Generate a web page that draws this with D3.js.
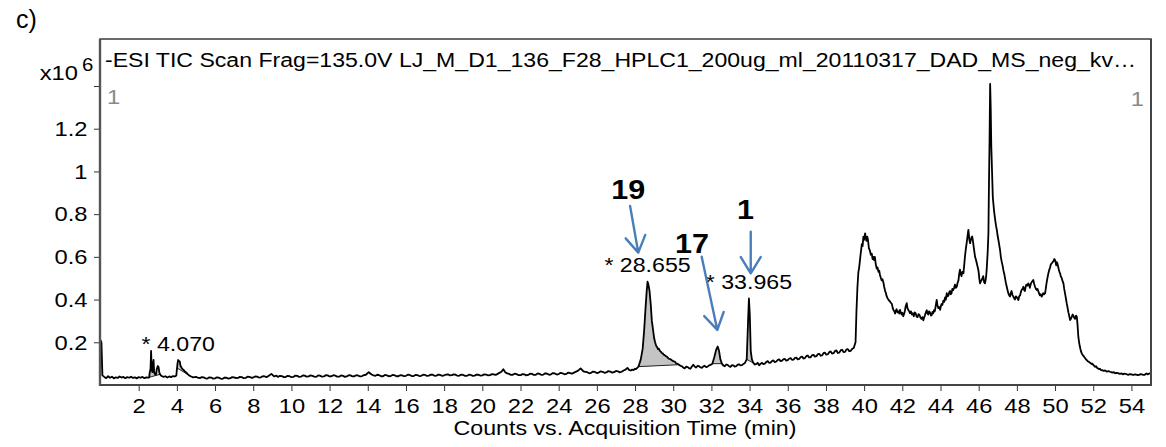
<!DOCTYPE html>
<html>
<head>
<meta charset="utf-8">
<script src="https://cdn.jsdelivr.net/npm/d3@7"></script>
<style>
  html, body { margin: 0; padding: 0; background: #fff; }
  svg { display: block; }
  text { font-family: "Liberation Sans", Arial, Helvetica, sans-serif; }
</style>
</head>
<body>
<svg id="chart" width="1166" height="447"></svg>
<script>
// Total ion chromatogram: [acquisition time (min), counts x10^6]
const ticPoints = [
  [0,0.21],[0.05,0.2],[0.1,0.045],[0.2,0.038],[0.3,0.032],[0.4,0.041],[0.5,0.034],[0.6,0.039],[0.7,0.031],[0.8,0.036],
  [0.9,0.033],[1.0,0.04],[1.1,0.035],[1.2,0.038],[1.3,0.032],[1.4,0.037],[1.5,0.034],[1.6,0.039],[1.7,0.033],[1.8,0.036],
  [1.9,0.031],[2.0,0.037],[2.1,0.034],[2.2,0.038],[2.3,0.032],[2.4,0.036],[2.5,0.034],
  [2.55,0.036],[2.58,0.06],[2.62,0.075],[2.65,0.16],[2.68,0.07],[2.72,0.06],[2.75,0.1],[2.78,0.117],[2.81,0.06],[2.85,0.05],
  [2.9,0.048],[2.95,0.075],[3.0,0.089],[3.04,0.085],[3.08,0.06],[3.12,0.05],[3.2,0.042],
  [3.3,0.038],[3.4,0.041],[3.5,0.035],[3.6,0.04],[3.7,0.037],[3.8,0.042],[3.9,0.04],[3.97,0.044],
  [4.01,0.08],[4.04,0.105],[4.07,0.117],[4.11,0.113],[4.15,0.11],[4.19,0.09],[4.24,0.082],[4.3,0.074],[4.36,0.07],[4.42,0.064],
  [4.5,0.058],[4.58,0.05],[4.66,0.044],[4.75,0.04],[4.85,0.036],
  [5.0,0.038],[5.1,0.034],[5.2,0.032],[5.3,0.037],[5.4,0.036],[5.5,0.031],[5.6,0.03],[5.7,0.036],[5.8,0.035],[5.9,0.03],
  [6.0,0.031],[6.1,0.036],[6.2,0.034],[6.3,0.03],[6.4,0.029],[6.5,0.035],[6.6,0.034],[6.7,0.03],[6.8,0.032],[6.9,0.037],
  [7.0,0.036],[7.1,0.032],[7.2,0.033],[7.3,0.038],[7.4,0.037],[7.5,0.032],[7.6,0.033],[7.7,0.039],[7.8,0.038],[7.9,0.034],
  [8.0,0.035],[8.1,0.04],[8.2,0.039],[8.3,0.035],[8.4,0.036],[8.5,0.041],[8.6,0.04],[8.7,0.037],[8.8,0.042],[8.95,0.052],
  [9.1,0.04],[9.2,0.044],[9.3,0.038],[9.4,0.043],[9.5,0.042],[9.6,0.037],[9.7,0.037],[9.8,0.043],[9.9,0.041],[10.0,0.037],
  [10.1,0.038],[10.2,0.044],[10.3,0.043],[10.4,0.038],[10.5,0.039],[10.6,0.045],[10.7,0.044],[10.8,0.039],[10.9,0.04],[11.0,0.045],
  [11.1,0.043],[11.2,0.039],[11.3,0.038],[11.4,0.045],[11.5,0.044],[11.6,0.039],[11.7,0.04],[11.8,0.046],[11.9,0.045],[12.0,0.04],
  [12.1,0.041],[12.2,0.046],[12.3,0.044],[12.4,0.039],[12.5,0.039],[12.6,0.045],[12.7,0.043],[12.8,0.038],[12.9,0.04],[13.0,0.046],
  [13.1,0.045],[13.2,0.04],[13.3,0.041],[13.4,0.046],[13.5,0.044],[13.6,0.04],[13.7,0.042],[13.8,0.046],[13.9,0.048],[14.05,0.06],
  [14.2,0.049],[14.3,0.045],[14.4,0.043],[14.5,0.048],[14.6,0.046],[14.7,0.041],[14.8,0.041],[14.9,0.047],[15.0,0.045],[15.1,0.041],
  [15.2,0.042],[15.3,0.047],[15.4,0.046],[15.5,0.041],[15.6,0.041],[15.7,0.046],[15.8,0.045],[15.9,0.041],[16.0,0.043],[16.1,0.048],
  [16.2,0.047],[16.3,0.042],[16.4,0.042],[16.5,0.047],[16.6,0.046],[16.7,0.042],[16.8,0.043],[16.9,0.048],[17.0,0.047],[17.1,0.043],
  [17.2,0.044],[17.3,0.049],[17.4,0.048],[17.5,0.043],[17.6,0.044],[17.7,0.049],[17.8,0.047],[17.9,0.043],[18.0,0.045],[18.1,0.049],
  [18.2,0.05],[18.3,0.045],[18.4,0.046],[18.5,0.05],[18.6,0.048],[18.7,0.043],[18.8,0.044],[18.9,0.049],[19.0,0.047],[19.1,0.043],
  [19.2,0.043],[19.3,0.048],[19.4,0.047],[19.5,0.043],[19.6,0.044],[19.7,0.049],[19.8,0.048],[19.9,0.044],[20.0,0.045],[20.1,0.05],
  [20.2,0.049],[20.3,0.045],[20.4,0.046],[20.5,0.051],[20.6,0.05],[20.7,0.047],[20.8,0.052],[21.0,0.062],[21.1,0.074],[21.2,0.06],
  [21.3,0.054],[21.4,0.052],[21.5,0.047],[21.6,0.048],[21.7,0.053],[21.8,0.051],[21.9,0.046],[22.0,0.046],[22.1,0.051],[22.2,0.05],
  [22.3,0.045],[22.4,0.047],[22.5,0.053],[22.6,0.052],[22.7,0.047],[22.8,0.048],[22.9,0.054],[23.0,0.052],[23.1,0.047],[23.2,0.049],
  [23.3,0.055],[23.4,0.053],[23.5,0.048],[23.6,0.05],[23.7,0.056],[23.8,0.054],[23.9,0.049],[24.0,0.051],[24.1,0.057],[24.2,0.055],
  [24.3,0.05],[24.4,0.052],[24.5,0.058],[24.6,0.056],[24.7,0.053],[24.8,0.058],[25.0,0.066],[25.15,0.078],[25.3,0.064],[25.4,0.062],
  [25.5,0.06],[25.6,0.055],[25.7,0.057],[25.8,0.063],[25.9,0.061],[26.0,0.056],[26.1,0.058],[26.2,0.064],[26.3,0.062],[26.4,0.057],
  [26.5,0.059],[26.6,0.065],[26.7,0.063],[26.8,0.058],[26.9,0.06],[27.0,0.066],[27.1,0.064],[27.2,0.059],[27.3,0.062],[27.4,0.068],
  [27.5,0.072],[27.6,0.08],[27.7,0.07],[27.78,0.068],[27.85,0.072],[27.92,0.07],[28.0,0.076],[28.05,0.074],
  [28.1,0.079],[28.18,0.086],[28.3,0.12],[28.4,0.17],[28.48,0.26],[28.55,0.36],[28.61,0.44],[28.655,0.484],[28.7,0.47],[28.76,0.44],
  [28.82,0.38],[28.88,0.3],[28.94,0.26],[29.0,0.22],[29.05,0.2],[29.1,0.185],[29.15,0.178],[29.2,0.168],[29.25,0.17],[29.3,0.16],
  [29.35,0.156],[29.4,0.15],[29.45,0.148],[29.5,0.142],[29.55,0.14],[29.6,0.136],[29.65,0.133],[29.7,0.13],[29.75,0.124],[29.8,0.122],
  [29.85,0.121],[29.9,0.118],[29.95,0.114],[30.0,0.112],[30.05,0.11],[30.1,0.108],[30.15,0.102],[30.2,0.1],[30.25,0.098],[30.3,0.095],
  [30.38,0.09],[30.45,0.088],[30.52,0.082],[30.6,0.078],[30.68,0.086],[30.75,0.084],[30.82,0.079],[30.9,0.076],[30.97,0.085],[31.05,0.095],
  [31.12,0.087],[31.2,0.082],[31.28,0.09],[31.35,0.088],[31.42,0.083],[31.5,0.08],[31.58,0.087],[31.65,0.09],[31.72,0.084],[31.8,0.086],
  [31.88,0.092],[31.95,0.094],[32.05,0.1],[32.15,0.13],[32.25,0.165],[32.33,0.18],[32.4,0.16],[32.47,0.12],[32.55,0.1],[32.62,0.092],
  [32.7,0.088],[32.78,0.096],[32.85,0.094],[32.92,0.088],[33.0,0.085],[33.08,0.093],[33.15,0.092],[33.22,0.086],[33.3,0.088],[33.38,0.095],
  [33.45,0.097],[33.52,0.092],[33.6,0.093],[33.68,0.099],[33.75,0.102],[33.85,0.12],[33.92,0.3],[33.965,0.405],[34.01,0.33],[34.06,0.16],
  [34.12,0.12],[34.2,0.103],[34.28,0.096],[34.35,0.098],[34.42,0.104],[34.5,0.092],[34.58,0.1],[34.65,0.104],[34.72,0.098],[34.8,0.1],
  [34.88,0.108],[34.95,0.112],[35.02,0.104],[35.1,0.105],[35.18,0.113],[35.25,0.115],[35.32,0.107],[35.4,0.11],[35.48,0.118],[35.55,0.12],
  [35.62,0.112],[35.7,0.114],[35.78,0.121],[35.85,0.122],[35.92,0.114],[36.0,0.116],[36.08,0.124],[36.15,0.126],[36.22,0.118],[36.3,0.119],
  [36.38,0.127],[36.45,0.128],[36.52,0.12],[36.6,0.122],[36.68,0.131],[36.75,0.133],[36.82,0.124],[36.9,0.126],[36.98,0.136],[37.05,0.138],
  [37.12,0.129],[37.2,0.13],[37.28,0.14],[37.35,0.141],[37.42,0.133],[37.5,0.135],[37.58,0.145],[37.65,0.146],[37.72,0.137],[37.8,0.139],
  [37.88,0.15],[37.95,0.151],[38.02,0.142],[38.1,0.144],[38.18,0.155],[38.25,0.157],[38.32,0.147],[38.4,0.149],[38.48,0.16],[38.55,0.162],
  [38.62,0.15],[38.7,0.152],[38.78,0.163],[38.85,0.165],[38.92,0.154],[39.0,0.155],[39.08,0.167],[39.15,0.168],[39.22,0.158],[39.3,0.16],
  [39.38,0.17],[39.45,0.172],
  [39.55,0.2],[39.6,0.35],[39.65,0.46],[39.7,0.53],[39.74,0.55],[39.8,0.6],[39.84,0.63],[39.88,0.66],[39.92,0.65],[39.96,0.695],
  [40.0,0.68],[40.05,0.71],[40.09,0.69],[40.12,0.675],[40.16,0.695],[40.2,0.68],[40.25,0.64],[40.3,0.63],[40.35,0.61],[40.4,0.615],
  [40.44,0.59],[40.48,0.6],[40.52,0.585],[40.56,0.6],[40.61,0.565],[40.66,0.545],[40.7,0.55],[40.75,0.53],[40.79,0.535],[40.83,0.515],
  [40.88,0.5],[40.92,0.49],[40.96,0.495],[41.01,0.48],[41.05,0.46],[41.1,0.44],[41.14,0.43],[41.18,0.416],[41.23,0.405],[41.27,0.4],
  [41.31,0.395],[41.36,0.39],[41.4,0.385],[41.45,0.38],[41.5,0.36],[41.54,0.35],[41.58,0.345],[41.62,0.335],[41.66,0.348],[41.7,0.355],
  [41.75,0.34],[41.8,0.345],[41.84,0.335],[41.88,0.352],[41.92,0.34],[41.96,0.33],[42.0,0.338],[42.05,0.322],[42.1,0.335],[42.14,0.35],
  [42.18,0.37],[42.23,0.383],[42.27,0.36],[42.32,0.35],[42.36,0.345],[42.4,0.336],[42.45,0.345],[42.5,0.33],[42.55,0.336],[42.6,0.322],
  [42.65,0.34],[42.7,0.335],[42.75,0.32],[42.8,0.318],[42.85,0.332],[42.9,0.328],[42.95,0.315],[43.0,0.31],[43.05,0.318],[43.1,0.303],
  [43.14,0.315],[43.18,0.325],[43.23,0.34],[43.28,0.35],[43.32,0.335],[43.36,0.33],[43.4,0.345],[43.45,0.34],[43.5,0.325],[43.54,0.328],
  [43.58,0.342],[43.62,0.336],[43.66,0.35],[43.7,0.345],[43.75,0.37],[43.8,0.398],[43.84,0.375],[43.88,0.36],[43.93,0.365],[43.98,0.352],
  [44.02,0.37],[44.06,0.38],[44.1,0.375],[44.15,0.395],[44.2,0.39],[44.24,0.41],[44.28,0.4],[44.33,0.43],[44.37,0.415],[44.42,0.42],
  [44.46,0.435],[44.5,0.44],[44.54,0.425],[44.58,0.43],[44.62,0.45],[44.67,0.445],[44.71,0.455],[44.76,0.47],[44.8,0.455],[44.85,0.46],
  [44.9,0.48],[44.94,0.49],[44.98,0.52],[45.02,0.54],[45.06,0.52],[45.1,0.51],[45.15,0.53],[45.2,0.523],[45.24,0.56],[45.28,0.6],
  [45.33,0.64],[45.37,0.664],[45.42,0.7],[45.46,0.726],[45.49,0.7],[45.51,0.68],[45.55,0.664],[45.59,0.68],[45.62,0.69],[45.66,0.695],
  [45.69,0.679],[45.72,0.66],[45.75,0.64],[45.78,0.62],[45.81,0.6],[45.86,0.585],[45.9,0.57],[45.94,0.555],[45.98,0.54],[46.01,0.52],
  [46.03,0.5],[46.07,0.476],[46.11,0.485],[46.15,0.49],[46.2,0.5],[46.24,0.51],[46.27,0.49],[46.29,0.48],[46.33,0.476],[46.36,0.49],
  [46.38,0.5],[46.42,0.54],[46.47,0.62],[46.51,0.71],[46.54,0.95],[46.57,1.15],[46.6,1.41],[46.63,1.3],[46.66,1.12],[46.7,1.0],
  [46.74,0.88],[46.77,0.85],[46.8,0.82],[46.84,0.79],[46.87,0.77],[46.91,0.745],[46.95,0.726],[46.99,0.7],[47.03,0.68],[47.07,0.66],
  [47.12,0.632],[47.16,0.6],[47.2,0.58],[47.25,0.56],[47.29,0.539],[47.34,0.52],[47.38,0.5],[47.42,0.48],[47.47,0.46],[47.51,0.445],
  [47.55,0.43],[47.6,0.42],[47.64,0.414],[47.68,0.43],[47.72,0.44],[47.77,0.42],[47.82,0.414],[47.86,0.405],[47.9,0.4],[47.95,0.415],
  [48.0,0.41],[48.04,0.405],[48.08,0.398],[48.12,0.415],[48.17,0.42],[48.21,0.435],[48.25,0.445],[48.3,0.45],[48.34,0.46],[48.38,0.445],
  [48.42,0.44],[48.46,0.46],[48.5,0.47],[48.55,0.465],[48.6,0.476],[48.64,0.47],[48.68,0.455],[48.72,0.47],[48.76,0.48],[48.81,0.485],
  [48.86,0.492],[48.9,0.475],[48.95,0.46],[49.0,0.45],[49.04,0.445],[49.08,0.45],[49.12,0.44],[49.16,0.43],[49.2,0.42],[49.25,0.425],
  [49.3,0.414],[49.34,0.42],[49.38,0.43],[49.43,0.425],[49.48,0.43],[49.52,0.455],[49.56,0.48],[49.6,0.5],[49.65,0.523],[49.7,0.54],
  [49.74,0.55],[49.78,0.565],[49.83,0.57],[49.87,0.575],[49.92,0.58],[49.96,0.59],[50.0,0.585],[50.03,0.575],[50.06,0.56],[50.09,0.575],
  [50.12,0.57],[50.16,0.555],[50.2,0.54],[50.23,0.53],[50.26,0.523],[50.3,0.51],[50.35,0.5],[50.4,0.485],[50.44,0.476],[50.48,0.45],
  [50.52,0.43],[50.57,0.405],[50.61,0.383],[50.66,0.36],[50.7,0.34],[50.75,0.32],[50.79,0.304],[50.83,0.31],[50.88,0.32],[50.92,0.33],
  [50.96,0.325],[51.0,0.315],[51.05,0.31],[51.1,0.325],[51.14,0.32],[51.18,0.28],[51.22,0.226],[51.26,0.2],[51.3,0.18],[51.35,0.16],
  [51.4,0.148],[51.45,0.14],[51.5,0.135],[51.54,0.13],[51.58,0.125],[51.62,0.12],[51.66,0.117],[51.7,0.112],[51.75,0.11],[51.8,0.106],
  [51.85,0.103],[51.92,0.098],[51.96,0.1],[52.0,0.094],[52.05,0.09],[52.1,0.085],[52.15,0.088],[52.2,0.08],[52.25,0.078],[52.3,0.074],
  [52.35,0.076],[52.4,0.07],[52.48,0.069],[52.55,0.066],[52.62,0.068],[52.7,0.063],[52.8,0.065],[52.88,0.062],[52.95,0.06],[53.0,0.058],
  [53.08,0.06],[53.15,0.055],[53.22,0.057],[53.3,0.056],[53.35,0.053],[53.4,0.052],[53.48,0.054],[53.55,0.05],[53.62,0.053],[53.7,0.052],
  [53.78,0.049],[53.85,0.048],[53.92,0.051],[54.0,0.05],[54.05,0.048],[54.1,0.047],[54.18,0.05],[54.25,0.049],[54.32,0.046],[54.4,0.047],
  [54.48,0.051],[54.55,0.05],[54.62,0.047],[54.7,0.048],[54.75,0.052],[54.8,0.054],[54.85,0.05],[54.9,0.052],[54.97,0.056]
];

// Integrated peak windows [start, end] in minutes
const integratedPeaks = [[0, 0.1], [2.55, 3.12], [4.0, 4.66], [28.18, 30.3], [32.05, 32.55], [33.85, 34.2]];

// Retention times printed above integrated peaks
const labelledPeakRT = [4.070, 28.655, 33.965];

// Compound numbers with arrows (minutes, counts x10^6)
const compoundIds = ["19", "17", "1"];
const compoundLabelAt = [[27.65, 0.87], [30.98, 0.62], [33.78, 0.776]];
const arrowFrom = [[27.74, 0.838], [31.49, 0.601], [34.06, 0.718]];
const arrowTo = [[28.17, 0.62], [32.31, 0.258], [34.06, 0.523]];

const xTickValues = [2,4,6,8,10,12,14,16,18,20,22,24,26,28,30,32,34,36,38,40,42,44,46,48,50,52,54];
const yTickValues = [0.2, 0.4, 0.6, 0.8, 1, 1.2, 1.4];
const yTickLabels = ["0.2", "0.4", "0.6", "0.8", "1", "1.2", ""];

const panelLetter = "c)";
const traceTitle = "-ESI TIC Scan Frag=135.0V LJ_M_D1_136_F28_HPLC1_200ug_ml_20110317_DAD_MS_neg_kv\u2026";
const xAxisTitle = "Counts vs. Acquisition Time (min)";

// ---------------------------------------------------------------
const svg = d3.select("#chart");
const frame = { left: 100, top: 39, right: 1151, bottom: 385 };
const TEXT_STRETCH = 1.13;

const x = d3.scaleLinear().domain([0, 55]).range([100.5, 1150.5]);
const y = d3.scaleLinear().domain([0, 1.4]).range([385, 86]);

function stretch(sel, k) {
  sel.each(function () {
    const w = this.getComputedTextLength();
    if (w > 0) {
      this.setAttribute("textLength", (w * k).toFixed(2));
      this.setAttribute("lengthAdjust", "spacingAndGlyphs");
    }
  });
}

// Frame around plot and title strip
svg.append("rect")
  .attr("x", frame.left).attr("y", frame.top)
  .attr("width", frame.right - frame.left).attr("height", frame.bottom - frame.top)
  .attr("fill", "none").attr("stroke", "#3a3a3a").attr("stroke-width", 1.5);

// Shaded integrated peaks
const line = d3.line().x(d => x(d[0])).y(d => y(d[1]));
integratedPeaks.forEach(([t0, t1]) => {
  const seg = ticPoints.filter(p => p[0] >= t0 - 1e-9 && p[0] <= t1 + 1e-9);
  if (seg.length < 2) return;
  const a = seg[0], b = seg[seg.length - 1];
  const poly = seg.concat([b, a]);
  svg.append("path")
    .attr("d", line(poly) + "Z")
    .attr("fill", "#c4c4c4").attr("stroke", "none");
  svg.append("path")
    .attr("d", line([a, b]))
    .attr("fill", "none").attr("stroke", "#222").attr("stroke-width", 1);
});

// TIC trace
svg.append("path")
  .datum(ticPoints)
  .attr("d", line)
  .attr("fill", "none")
  .attr("stroke", "#000")
  .attr("stroke-width", 1.8)
  .attr("stroke-linejoin", "round");

// Axes
const xAxis = d3.axisBottom(x).tickValues(xTickValues).tickSize(6).tickPadding(7.5).tickFormat(d3.format("d"));
const gx = svg.append("g").attr("transform", `translate(0,${frame.bottom})`).call(xAxis);
gx.select(".domain").remove();
gx.selectAll(".tick line").attr("stroke", "#333").attr("stroke-width", 1);
gx.selectAll(".tick text").attr("font-size", 21).attr("fill", "#000")
  .attr("font-family", '"Liberation Sans", Arial, sans-serif');

const yAxis = d3.axisLeft(y).tickValues(yTickValues).tickSize(6).tickPadding(6.5)
  .tickFormat((d, i) => yTickLabels[i]);
const gy = svg.append("g").attr("transform", `translate(${frame.left},0)`).call(yAxis);
gy.select(".domain").remove();
gy.selectAll(".tick line").attr("stroke", "#333").attr("stroke-width", 1);
gy.selectAll(".tick text").attr("font-size", 21).attr("fill", "#000")
  .attr("font-family", '"Liberation Sans", Arial, sans-serif');

// heavier left and bottom axis lines
svg.append("line").attr("x1", frame.left).attr("x2", frame.left)
  .attr("y1", frame.top).attr("y2", frame.bottom + 1)
  .attr("stroke", "#555").attr("stroke-width", 2.4);
svg.append("line").attr("x1", frame.left).attr("x2", frame.right + 1)
  .attr("y1", frame.bottom).attr("y2", frame.bottom)
  .attr("stroke", "#444").attr("stroke-width", 2.2);
svg.append("line").attr("x1", frame.right).attr("x2", frame.right)
  .attr("y1", frame.top).attr("y2", frame.bottom)
  .attr("stroke", "#444").attr("stroke-width", 2);

// Retention-time labels centred over the peak apex
labelledPeakRT.forEach(rt => {
  const near = ticPoints.filter(p => Math.abs(p[0] - rt) < 0.06);
  const apex = d3.max(near, p => p[1]);
  svg.append("text")
    .attr("class", "rtlabel")
    .attr("x", x(rt)).attr("y", y(apex) - 9.5)
    .attr("text-anchor", "middle")
    .attr("font-size", 20.5)
    .text("* " + rt.toFixed(3));
});

// Compound arrows
const arrowColor = "#4a7ebb";
compoundIds.forEach((id, i) => {
  const [fx, fy] = [x(arrowFrom[i][0]), y(arrowFrom[i][1])];
  const [tx, ty] = [x(arrowTo[i][0]), y(arrowTo[i][1])];
  const ang = Math.atan2(ty - fy, tx - fx);
  const len = 19, spread = 0.55;
  const b1 = [tx - len * Math.cos(ang - spread), ty - len * Math.sin(ang - spread)];
  const b2 = [tx - len * Math.cos(ang + spread), ty - len * Math.sin(ang + spread)];
  svg.append("path")
    .attr("d", `M${fx},${fy}L${tx},${ty}M${b1[0]},${b1[1]}L${tx},${ty}L${b2[0]},${b2[1]}`)
    .attr("fill", "none").attr("stroke", arrowColor)
    .attr("stroke-width", 2.4).attr("stroke-linecap", "round").attr("stroke-linejoin", "round");
  svg.append("text")
    .attr("class", "cmpd")
    .attr("x", x(compoundLabelAt[i][0])).attr("y", y(compoundLabelAt[i][1]))
    .attr("text-anchor", "middle")
    .attr("font-size", 27).attr("font-weight", "bold")
    .text(id);
});

// Title strip
svg.append("text")
  .attr("id", "title")
  .attr("x", 105).attr("y", 66.5)
  .attr("font-size", 20)
  .text(traceTitle);

// Gray "1" markers inside the plot
svg.append("text").attr("class", "marker").attr("x", 107).attr("y", 103.5)
  .attr("font-size", 21).attr("fill", "#8a8a8a").text("1");
svg.append("text").attr("class", "marker").attr("x", 1144).attr("y", 106)
  .attr("font-size", 21).attr("fill", "#8a8a8a").attr("text-anchor", "end").text("1");

// Exponent label
svg.append("text").attr("class", "expo").attr("x", 78).attr("y", 80)
  .attr("font-size", 21).attr("text-anchor", "end").text("x10");
svg.append("text").attr("class", "expo").attr("x", 82).attr("y", 70.5)
  .attr("font-size", 18).text("6");

// X axis title
svg.append("text").attr("id", "xtitle")
  .attr("x", 625).attr("y", 435)
  .attr("text-anchor", "middle")
  .attr("font-size", 20)
  .text(xAxisTitle);

// Panel letter
svg.append("text")
  .attr("x", 16).attr("y", 28)
  .attr("font-family", '"Open Sans", "Noto Sans", sans-serif')
  .attr("font-size", 25)
  .text(panelLetter);

// Horizontal stretch to match the wide lettering
stretch(gx.selectAll(".tick text"), TEXT_STRETCH);
stretch(gy.selectAll(".tick text"), TEXT_STRETCH);
stretch(svg.selectAll(".rtlabel, .cmpd, .marker, .expo"), TEXT_STRETCH);
stretch(svg.selectAll("#xtitle"), 1.16);
// title spans the strip
svg.select("#title").each(function () {
  this.setAttribute("textLength", 1031);
  this.setAttribute("lengthAdjust", "spacingAndGlyphs");
});
</script>
</body>
</html>
